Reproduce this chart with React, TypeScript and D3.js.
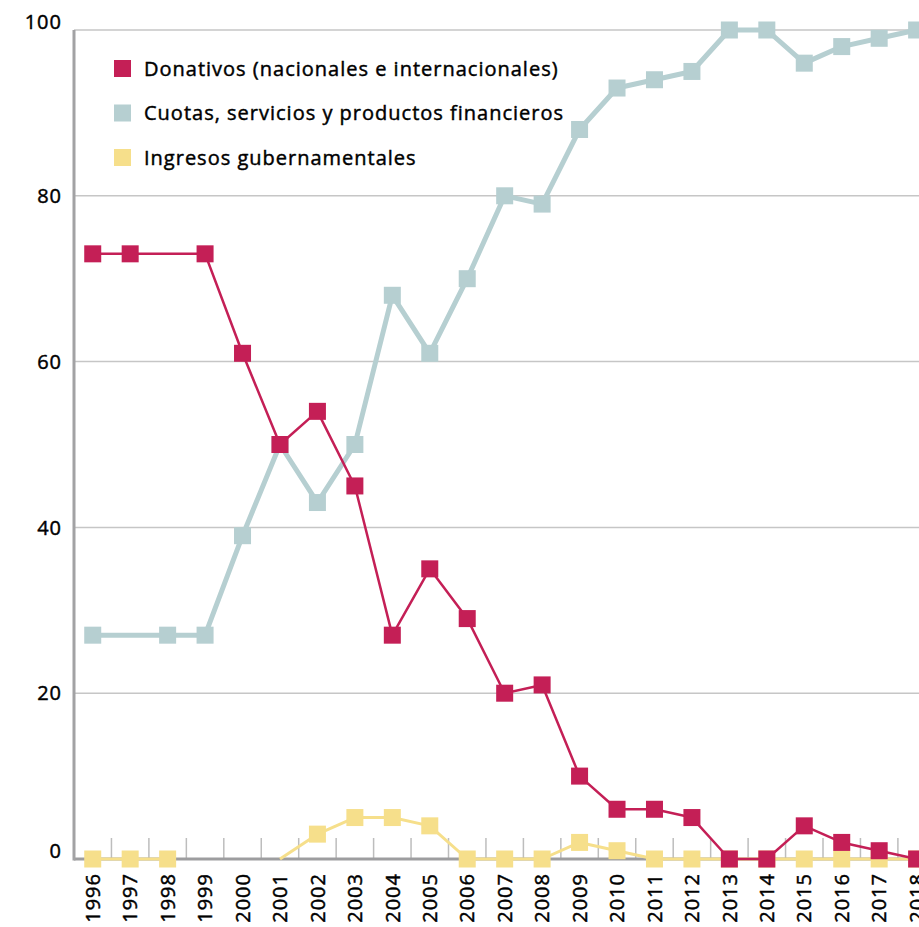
import React from "react";
import * as d3 from "d3";

const years = ["1996","1997","1998","1999","2000","2001","2002","2003","2004","2005","2006","2007","2008","2009","2010","2011","2012","2013","2014","2015","2016","2017","2018"];
const donativos: (number | null)[] = [73,73,73,73,61,50,54,45,27,35,29,20,21,10,6,6,5,0,0,4,2,1,0];
const cuotas: (number | null)[] = [27,27,27,27,39,50,43,50,68,61,70,80,79,88,93,94,95,100,100,96,98,99,100];
const gubernamentales: (number | null)[] = [0,0,0,null,null,0,3,5,5,4,0,0,0,2,1,0,0,0,0,0,0,0,0];
const donativosNoMarker = ["1998"];
const cuotasNoMarker = ["1997"];
const gubernamentalesNoMarker = ["2001"];
const seriesNames = ["Donativos (nacionales e internacionales)", "Cuotas, servicios y productos financieros", "Ingresos gubernamentales"];
const yTicks = [0, 20, 40, 60, 80, 100];

const RED = "#c41f56";
const TEAL = "#b6cfd1";
const YELLOW = "#f6df8b";
const FONT = "'Open Sans', sans-serif";

export default function App() {
  const W = 919, H = 927;
  const left = 74, right = 74 + 37.45 * years.length;
  const x = d3.scaleBand<string>().domain(years).range([left, right]).padding(0);
  const y = d3.scaleLinear().domain([0, 100]).range([859, 30]);
  const cx = (yr: string) => (x(yr) as number) + x.bandwidth() / 2;

  const series = [
    { name: seriesNames[1], values: cuotas, color: TEAL, width: 5, noMarker: cuotasNoMarker },
    { name: seriesNames[2], values: gubernamentales, color: YELLOW, width: 3, noMarker: gubernamentalesNoMarker },
    { name: seriesNames[0], values: donativos, color: RED, width: 2.5, noMarker: donativosNoMarker },
  ];
  const legend = [
    { name: seriesNames[0], color: RED },
    { name: seriesNames[1], color: TEAL },
    { name: seriesNames[2], color: YELLOW },
  ];

  const line = d3.line<[string, number | null]>()
    .defined((d) => d[1] !== null)
    .x((d) => cx(d[0]))
    .y((d) => y(d[1] as number));

  const ms = 17;
  const boundaries = d3.range(1, years.length).map((i) => left + x.step() * i);
  const textProps = { fontFamily: FONT, fontSize: 20, letterSpacing: 1, fill: "#000", stroke: "#000", strokeWidth: 0.45 };

  return (
    <svg width={W} height={H} style={{ position: "absolute", left: 0, top: 0, background: "#fff" }}>
      {yTicks.filter((t) => t > 0).map((t) => (
        <line key={"g" + t} x1={left} x2={W} y1={y(t)} y2={y(t)} stroke="#c6c6c6" strokeWidth={1.5} />
      ))}
      {boundaries.map((b, i) => (
        <line key={"t" + i} x1={b} x2={b} y1={838} y2={859} stroke="#bdbdbd" strokeWidth={1.5} />
      ))}
      <line x1={left} x2={W} y1={y(0)} y2={y(0)} stroke="#9d9d9f" strokeWidth={3} />
      <line x1={left} x2={left} y1={y(100)} y2={y(0) + 1.5} stroke="#a2a2a4" strokeWidth={3} />
      {yTicks.map((t, i) => (
        <text key={"yl" + t} x={62} y={y(t) + (i === 0 || i === yTicks.length - 1 ? -8 : 0)} dy="0.36em"
          textAnchor="end" {...textProps}>{t}</text>
      ))}
      {years.map((yr) => (
        <text key={"xl" + yr} transform={`translate(${cx(yr)},873) rotate(-90)`} dy="0.36em"
          textAnchor="end" {...textProps}>{yr}</text>
      ))}
      {series.map((s) => {
        const pts: [string, number | null][] = years.map((yr, i) => [yr, s.values[i]]);
        return (
          <g key={s.name}>
            <path d={line(pts) || ""} fill="none" stroke={s.color} strokeWidth={s.width} strokeLinejoin="round" />
            {pts.filter((p) => p[1] !== null && !s.noMarker.includes(p[0])).map((p) => (
              <rect key={p[0]} x={cx(p[0]) - ms / 2} y={y(p[1] as number) - ms / 2} width={ms} height={ms} fill={s.color} />
            ))}
          </g>
        );
      })}
      {legend.map((l, i) => (
        <g key={"lg" + i} transform={`translate(114,${60 + i * 44.5})`}>
          <rect x={0} y={0} width={17} height={17} fill={l.color} />
          <text x={30} y={8.5} dy="0.36em" {...textProps}>{l.name}</text>
        </g>
      ))}
    </svg>
  );
}
